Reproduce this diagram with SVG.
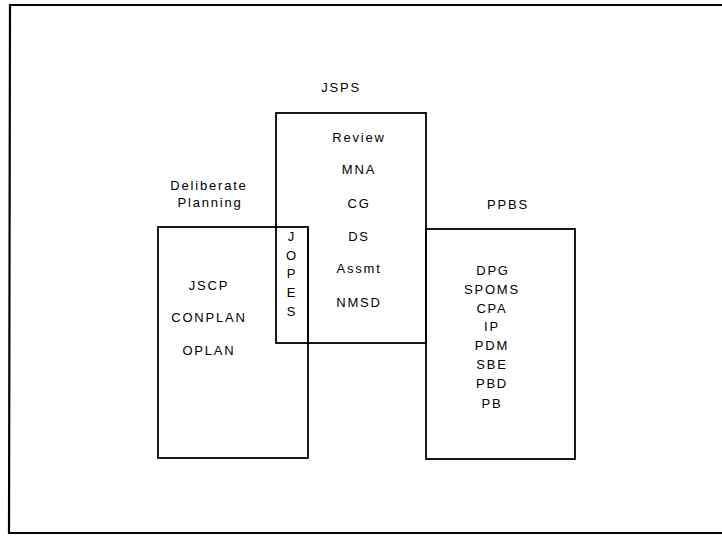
<svg xmlns="http://www.w3.org/2000/svg" width="722" height="539" viewBox="0 0 722 539">
<style>
.box{fill:none;stroke:#000;stroke-width:1.8}
.frame{fill:none;stroke:#000;stroke-width:2.2}
text{font-family:"Liberation Sans",Arial,sans-serif;font-size:13px;fill:#000;text-anchor:middle;letter-spacing:1.8px}
</style>
<rect width="722" height="539" fill="#fff"/>
<g id="frame">
<polyline class="frame" points="722,5 10,5 9,533 722,533"/>
</g>
<g id="deliberate">
<rect class="box" x="158" y="227" width="150" height="231"/>
<text x="209" y="190">Deliberate</text>
<text x="210" y="207">Planning</text>
<text x="209" y="290">JSCP</text>
<text x="209" y="322">CONPLAN</text>
<text x="209" y="355">OPLAN</text>
</g>
<g id="jsps">
<rect class="box" x="276" y="113" width="150" height="230"/>
<text x="341" y="92">JSPS</text>
<text x="359" y="142">Review</text>
<text x="359" y="174">MNA</text>
<text x="359" y="208">CG</text>
<text x="359" y="241">DS</text>
<text x="359" y="273">Assmt</text>
<text x="359" y="307">NMSD</text>
</g>
<g id="jopes">
<line class="box" x1="308" y1="227" x2="308" y2="343"/>
<text x="292" y="241">J</text>
<text x="292" y="260">O</text>
<text x="292" y="278">P</text>
<text x="292" y="297">E</text>
<text x="292" y="316">S</text>
</g>
<g id="ppbs">
<rect class="box" x="426" y="229" width="149" height="230"/>
<text x="508" y="209">PPBS</text>
<text x="493" y="275">DPG</text>
<text x="492" y="294">SPOMS</text>
<text x="492" y="313">CPA</text>
<text x="492" y="331">IP</text>
<text x="492" y="350">PDM</text>
<text x="492" y="369">SBE</text>
<text x="492" y="388">PBD</text>
<text x="492" y="408">PB</text>
</g>
<g id="connectors"></g>
</svg>
